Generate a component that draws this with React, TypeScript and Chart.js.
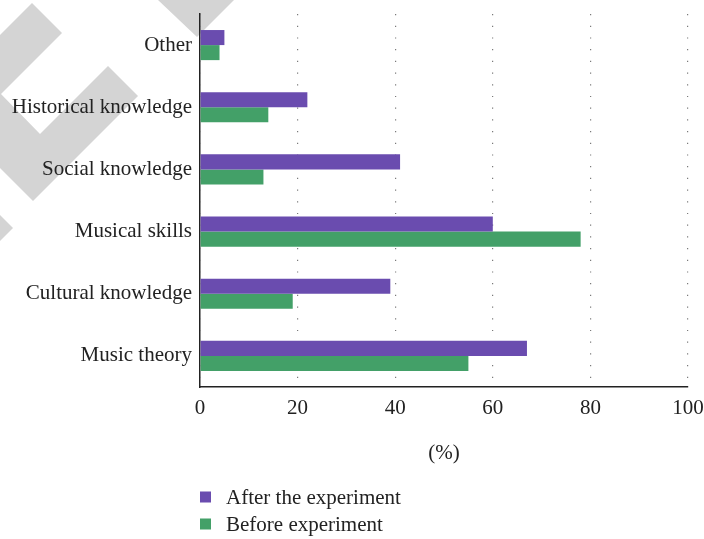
import { useEffect, useRef } from "react";
import { Chart, registerables } from "chart.js";

Chart.register(...registerables);

// Survey categories, listed top to bottom
const categories = [
  "Other",
  "Historical knowledge",
  "Social knowledge",
  "Musical skills",
  "Cultural knowledge",
  "Music theory",
];

// Share of respondents (%)
const afterExperiment = [5, 22, 41, 60, 39, 67];
const beforeExperiment = [4, 14, 13, 78, 19, 55];

const seriesNames = ["After the experiment", "Before experiment"];
const seriesColors = ["#6a4caf", "#43a068"];

const xMin = 0;
const xMax = 100;
const xStep = 20;
const axisTitle = "(%)";

const FONT_FAMILY = "'Liberation Serif', 'Times New Roman', serif";
const TEXT_COLOR = "#222222";

// Light grey diagonal bands painted behind the plot
const backdropShapes: number[][][] = [
  [
    [32, 3],
    [62, 33],
    [1, 94],
    [40, 134],
    [108, 66],
    [138, 96],
    [33, 201],
    [0, 168],
    [0, 35],
  ],
  [
    [0, 215],
    [13, 228],
    [0, 241],
  ],
  [
    [158, 0],
    [234, 0],
    [197, 37],
  ],
];

const backdropPlugin = {
  id: "backdrop",
  beforeDraw(chart: any) {
    const ctx = chart.ctx as CanvasRenderingContext2D;
    ctx.save();
    ctx.fillStyle = "#d4d4d4";
    for (const shape of backdropShapes) {
      ctx.beginPath();
      shape.forEach(([x, y], i) => (i === 0 ? ctx.moveTo(x, y) : ctx.lineTo(x, y)));
      ctx.closePath();
      ctx.fill();
    }
    ctx.restore();
  },
};

// Legend stacked vertically under the axis title
const stackedLegendPlugin = {
  id: "stackedLegend",
  afterDraw(chart: any) {
    const ctx = chart.ctx as CanvasRenderingContext2D;
    const left = chart.chartArea.left;
    const firstY = chart.chartArea.bottom + 110;
    const rowGap = 27;
    const box = 11;
    ctx.save();
    ctx.font = `21px ${FONT_FAMILY}`;
    ctx.textBaseline = "middle";
    ctx.textAlign = "left";
    chart.data.datasets.forEach((ds: any, i: number) => {
      const cy = firstY + i * rowGap;
      ctx.fillStyle = ds.backgroundColor;
      ctx.fillRect(left, cy - box / 2, box, box);
      ctx.fillStyle = TEXT_COLOR;
      ctx.fillText(ds.label, left + 26, cy + 1);
    });
    ctx.restore();
  },
};

export default function App() {
  const canvasRef = useRef<HTMLCanvasElement | null>(null);

  useEffect(() => {
    if (!canvasRef.current) return;
    const chart = new Chart(canvasRef.current, {
      type: "bar",
      data: {
        labels: categories,
        datasets: [
          {
            label: seriesNames[0],
            data: afterExperiment,
            backgroundColor: seriesColors[0],
            borderWidth: 0,
            categoryPercentage: 0.484,
            barPercentage: 1,
          },
          {
            label: seriesNames[1],
            data: beforeExperiment,
            backgroundColor: seriesColors[1],
            borderWidth: 0,
            categoryPercentage: 0.484,
            barPercentage: 1,
          },
        ],
      },
      options: {
        indexAxis: "y",
        animation: false,
        responsive: true,
        maintainAspectRatio: false,
        layout: { padding: { top: 14, right: 16, bottom: 70, left: 0 } },
        plugins: {
          legend: { display: false },
          tooltip: { enabled: false },
        },
        scales: {
          x: {
            type: "linear",
            min: xMin,
            max: xMax,
            ticks: {
              stepSize: xStep,
              padding: 9,
              color: TEXT_COLOR,
              font: { family: FONT_FAMILY, size: 21 },
            },
            grid: {
              display: true,
              drawTicks: false,
              color: "#7a7a7a",
              lineWidth: 1.2,
            },
            border: {
              display: true,
              color: TEXT_COLOR,
              width: 1.5,
              dash: [1.2, 10.5],
            },
            title: {
              display: true,
              text: axisTitle,
              color: TEXT_COLOR,
              font: { family: FONT_FAMILY, size: 21 },
              padding: { top: 4, bottom: 3 },
            },
            afterFit(scale: any) {
              scale.height = 82;
              scale.paddingLeft = 0;
              scale.paddingRight = 0;
            },
          },
          y: {
            type: "category",
            ticks: {
              padding: 8,
              color: TEXT_COLOR,
              font: { family: FONT_FAMILY, size: 21 },
            },
            grid: { display: false, drawTicks: false },
            border: { display: true, color: TEXT_COLOR, width: 1.5 },
            afterFit(scale: any) {
              scale.width = 200;
              scale.paddingTop = 0;
              scale.paddingBottom = 0;
            },
          },
        },
      },
      plugins: [backdropPlugin, stackedLegendPlugin],
    });
    return () => chart.destroy();
  }, []);

  return (
    <div style={{ position: "absolute", left: 0, top: 0, width: 704, height: 539 }}>
      <canvas ref={canvasRef} />
    </div>
  );
}
